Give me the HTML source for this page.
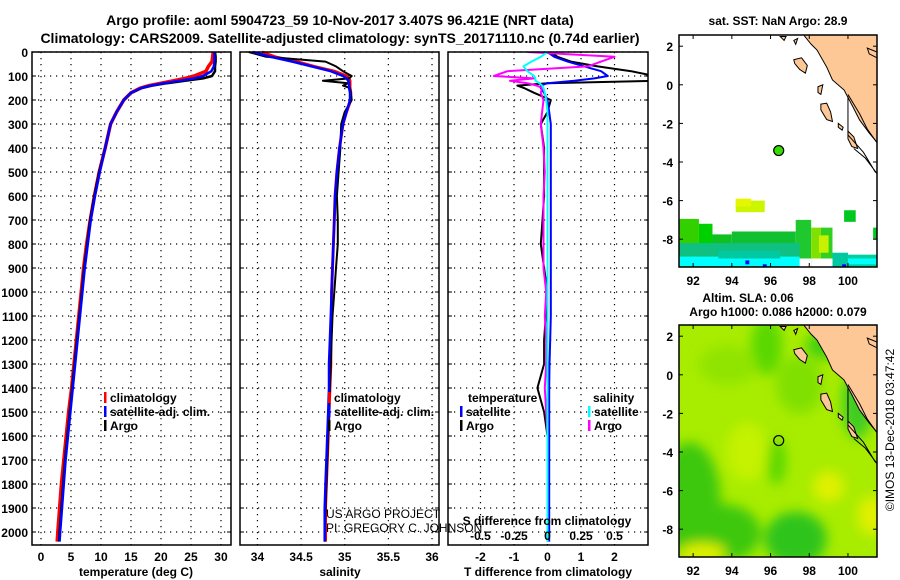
<!DOCTYPE html>
<html><head><meta charset="utf-8"><style>
body{margin:0;background:#fff}
svg{display:block;font-family:"Liberation Sans",sans-serif;font-weight:bold}
</style></head><body>
<svg id="c" width="900" height="580" viewBox="0 0 900 580" xmlns="http://www.w3.org/2000/svg">
<defs><filter id="bl" x="-50%" y="-50%" width="200%" height="200%"><feGaussianBlur stdDeviation="6"/></filter>
<clipPath id="m1"><rect x="679" y="35" width="198" height="232"/></clipPath>
<clipPath id="m2"><rect x="679" y="325" width="198" height="232"/></clipPath>
<clipPath id="p3"><rect x="448" y="52" width="200" height="493"/></clipPath></defs>
<text x="340" y="25" font-size="14" text-anchor="middle">Argo profile: aoml 5904723_59 10-Nov-2017 3.407S 96.421E (NRT data)</text>
<text x="340" y="43" font-size="14" text-anchor="middle">Climatology: CARS2009. Satellite-adjusted climatology: synTS_20171110.nc (0.74d earlier)</text>
</svg>
<script>
const depthTicks=[0,100,200,300,400,500,600,700,800,900,1000,1100,1200,1300,1400,1500,1600,1700,1800,1900,2000];
const tempTicks=[0,5,10,15,20,25,30];
const salTicks=[34,34.5,35,35.5,36];
const salTickLabels=['34','34.5','35','35.5','36'];
const tdTicks=[-2,-1,0,1,2];
const sdTicks=[-0.5,-0.25,0,0.25,0.5];
const sdTickLabels=['-0.5','-0.25','0','0.25','0.5'];
const depths=[0,20,40,60,80,100,110,120,130,140,150,170,200,250,300,400,500,600,700,800,900,1000,1100,1200,1300,1400,1500,1600,1700,1800,1900,2000,2040];
const tempArgo=[29.0,29.1,29.1,29.0,29.0,28.5,27,24,21,18.5,16.8,15,13.8,12.6,11.6,10.7,9.7,8.9,8.2,7.7,7.2,6.8,6.4,6.0,5.6,5.2,4.8,4.4,4.0,3.7,3.4,3.1,3.0];
const tempClim=[28.7,28.6,28.5,27.9,27.5,25.5,24,22,20,18,16.6,15,13.8,12.6,11.6,10.7,9.7,8.9,8.2,7.6,7.1,6.7,6.3,5.9,5.5,5.1,4.6,4.2,3.8,3.4,3.1,2.8,2.7];
const tempSat=[28.9,28.9,28.9,28.8,28.4,27,25.5,23,20.5,18.3,16.7,15,13.8,12.6,11.6,10.7,9.8,9.0,8.3,7.8,7.3,6.9,6.5,6.1,5.7,5.3,4.9,4.5,4.1,3.8,3.5,3.2,3.1];
const salArgo=[33.9,34.1,34.78,34.9,34.98,35.08,35.05,34.75,35.04,34.98,35.06,35.07,35.08,35.0,34.96,34.95,34.93,34.91,34.92,34.92,34.9,34.88,34.86,34.85,34.84,34.83,34.82,34.81,34.8,34.79,34.78,34.77,34.77];
const salClim=[34.05,34.2,34.45,34.65,34.88,35.02,35.05,35.06,35.06,35.06,35.06,35.07,35.07,35.02,34.98,34.94,34.91,34.89,34.88,34.87,34.86,34.85,34.85,34.84,34.84,34.83,34.82,34.81,34.8,34.79,34.78,34.78,34.78];
const salSat=[33.95,34.15,34.4,34.62,34.84,34.98,35.02,35.04,35.05,35.05,35.05,35.06,35.06,35.02,34.98,34.94,34.91,34.89,34.88,34.87,34.86,34.85,34.84,34.83,34.82,34.82,34.81,34.8,34.79,34.78,34.77,34.77,34.77];
const tdArgo=[0.1,0.3,0.7,1.5,2.5,3.2,3.2,3.2,0,-0.9,-0.7,-0.4,0.1,0.0,-0.2,-0.1,-0.1,-0.1,-0.15,-0.2,-0.1,0.0,-0.05,-0.1,-0.1,-0.3,-0.1,0,0,0,0,0,0];
const tdSat=[0.0,0.2,0.6,1.1,1.6,1.8,1.4,0.8,0.0,-0.2,-0.2,-0.1,0.0,0.05,0.1,0.1,0.1,0.1,0.1,0.1,0.1,0.1,0.1,0.08,0.06,0.05,0.05,0.05,0.05,0.05,0.05,0.05,0.05];
const sdArgo=[-0.15,0.5,0.4,0.3,-0.3,-0.4,-0.1,-0.28,-0.15,-0.08,-0.04,-0.05,-0.03,-0.04,-0.05,-0.03,-0.02,-0.03,-0.03,-0.03,-0.03,-0.01,-0.02,-0.01,-0.01,-0.02,-0.01,0,0,0,0,0,0];
const sdSat=[0.0,-0.05,-0.12,-0.18,-0.15,-0.1,-0.09,-0.09,-0.06,-0.04,-0.03,-0.02,-0.01,0.0,0.0,0.0,0.0,0.0,0.0,0.0,0.0,0.0,0.0,0.0,0.0,0.0,0.0,0.0,0.0,0.0,0.0,0.0,0.0];
const argoLon=96.421, argoLat=-3.407;
const lonTicks=[92,94,96,98,100];
const latTicks=[2,0,-2,-4,-6,-8];

const S=document.getElementById('c');const NS='http://www.w3.org/2000/svg';
function mk(t,a,p){const e=document.createElementNS(NS,t);for(const k in a)e.setAttribute(k,a[k]);(p||S).appendChild(e);return e;}
function tx(x,y,s,o){const e=mk('text',Object.assign({x:x,y:y,'font-size':12},o||{}));e.textContent=s;return e;}
const Y0=52,Y1=545;
const yD=d=>Y0+d*0.24;
const panels=[
 {n:'temperature',x0:32,x1:231,v0:-1.5,v1:31.67},
 {n:'salinity',x0:240,x1:439,v0:33.8,v1:36.08},
 {n:'difference',x0:448,x1:648,v0:-2.97,v1:3.0}];
panels.forEach(p=>{p.f=v=>p.x0+(v-p.v0)/(p.v1-p.v0)*(p.x1-p.x0);});
const xT=panels[0].f,xS=panels[1].f,xTD=panels[2].f,xSD=v=>xTD(v*4);
depthTicks.forEach(d=>{const e=tx(28,yD(d)+5,String(d),{'text-anchor':'end'});

});
function grid(p,ticks,fx){
 const g=mk('g',{});
 
 
 depthTicks.forEach(d=>{mk('line',{x1:p.x0,x2:p.x1,y1:yD(d),y2:yD(d),stroke:'#000','stroke-dasharray':'1.2 4.8','stroke-width':1.2},g);
  mk('line',{x1:p.x0,x2:p.x0+4,y1:yD(d),y2:yD(d),stroke:'#000'},g);mk('line',{x1:p.x1-4,x2:p.x1,y1:yD(d),y2:yD(d),stroke:'#000'},g);});
 ticks.forEach(v=>{const x=fx(v);mk('line',{x1:x,x2:x,y1:Y0,y2:Y1,stroke:'#000','stroke-dasharray':'1.2 4.8','stroke-width':1.2},g);});
}
function frame(p){const r=mk('rect',{x:p.x0,y:Y0,width:p.x1-p.x0,height:Y1-Y0,fill:'none',stroke:'#000','stroke-width':1.5});
 
 }
grid(panels[0],tempTicks,xT);grid(panels[1],salTicks,xS);grid(panels[2],tdTicks,xTD);
function line(vals,fx,col,name,w,clip){const pts=vals.map((v,i)=>fx(v).toFixed(1)+','+yD(depths[i]).toFixed(1)).join(' ');
 const a={points:pts,fill:'none',stroke:col,'stroke-width':w||2.5,'stroke-linejoin':'round'};if(clip)a['clip-path']='url(#p3)';
 const e=mk('polyline',a);
 
 }
line(tempClim,xT,'#f00','temperature-climatology-line',3.5);line(tempArgo,xT,'#000','temperature-argo-line',2.5);line(tempSat,xT,'#00f','temperature-satellite-line',2.5);
line(salClim,xS,'#f00','salinity-climatology-line',3);line(salArgo,xS,'#000','salinity-argo-line',2);line(salSat,xS,'#00f','salinity-satellite-line',2.5);
line(tdArgo,xTD,'#000','t-diff-argo-line',2,1);line(tdSat,xTD,'#00f','t-diff-satellite-line',2,1);line(sdArgo,xSD,'#f0f','s-diff-argo-line',2,1);line(sdSat,xSD,'#0ff','s-diff-satellite-line',2,1);
panels.forEach(frame);
tempTicks.forEach(v=>{const e=tx(xT(v),561,String(v),{'text-anchor':'middle'});

});
salTicks.forEach((v,i)=>{const e=tx(xS(v),561,salTickLabels[i],{'text-anchor':'middle'});

});
tdTicks.forEach(v=>{const e=tx(xTD(v),561,String(v),{'text-anchor':'middle'});

});
sdTicks.forEach((v,i)=>{const e=tx(xSD(v),540,sdTickLabels[i],{'text-anchor':'middle'});

});
[[136,'temperature (deg C)','temperature-axis-title'],[340,'salinity','salinity-axis-title'],[548,'T difference from climatology','t-diff-axis-title']].forEach(a=>{const e=tx(a[0],576,a[1],{'text-anchor':'middle'});

});
{const e=tx(547,525,'S difference from climatology',{'text-anchor':'middle'});

}
function leg(x,y,col,lab,name){mk('rect',{x:x,y:y-10,width:2.5,height:11,fill:col});const e=tx(x+6,y,lab);
 
 }
leg(104,402,'#f00','climatology','legend-temp-climatology');leg(104,416,'#00f','satellite-adj. clim.','legend-temp-satellite');leg(104,430,'#000','Argo','legend-temp-argo');
leg(328,402,'#f00','climatology','legend-sal-climatology');leg(328,416,'#00f','satellite-adj. clim.','legend-sal-satellite');leg(328,430,'#000','Argo','legend-sal-argo');
{const e=tx(468,402,'temperature');}
leg(460,416,'#00f','satellite','legend-tdiff-satellite');leg(460,430,'#000','Argo','legend-tdiff-argo');
{const e=tx(593,402,'salinity');}
leg(588,416,'#0ff','satellite','legend-sdiff-satellite');leg(588,430,'#f0f','Argo','legend-sdiff-argo');
{const e=tx(326,518,'US ARGO PROJECT',{'font-weight':'normal'});
 const f=tx(326,532,'PI: GREGORY C. JOHNSON',{'font-weight':'normal'});}
const LON0=91.27,LON1=101.5,LAT0=2.58,LAT1=-9.44;
function mapFn(top){return {x:lo=>679+(lo-LON0)/(LON1-LON0)*198,y:la=>top+(LAT0-la)/(LAT0-LAT1)*232};}
const M1=mapFn(35),M2=mapFn(325);
function cell(M,g,lo0,lo1,la0,la1,c){mk('rect',{x:M.x(lo0),y:M.y(la0),width:M.x(lo1)-M.x(lo0),height:M.y(la1)-M.y(la0),fill:c},g);}
const g1=mk('g',{'clip-path':'url(#m1)'});


[[94.2,95.7,-6.0,-6.6,'#ccf500'],[94.2,95.0,-5.9,-6.3,'#e6f500'],[91.3,92.3,-6.95,-9.5,'#33d000'],[92.3,93.0,-7.2,-9.5,'#00d000'],[93.0,94.0,-7.75,-9.5,'#10c020'],[94.0,97.3,-7.6,-9.5,'#10c030'],[97.3,98.1,-7.0,-9.5,'#20c830'],[98.1,98.6,-7.4,-9.0,'#80e000'],[98.6,99.2,-7.4,-9.0,'#30d020'],[99.2,100,-8.7,-9.5,'#00c8a0'],[99.8,100.4,-6.5,-7.1,'#00c820'],[101.3,101.6,-7.4,-8.0,'#00c820'],[100,101.6,-8.8,-9.5,'#00d0a0'],
 [91.3,97.5,-8.2,-8.9,'#10c080'],[91.3,97.5,-8.9,-9.4,'#00ffff'],[93.3,96.5,-8.6,-9.0,'#00c8a0'],[98.5,99.0,-7.8,-8.7,'#c8f000'],[100,101.6,-9.0,-9.3,'#00ffff'],[97.5,98.1,-9.0,-9.5,'#ffffff'],[98.3,99.2,-9.0,-9.3,'#ffffff'],[94.7,94.9,-9.1,-9.3,'#0000ff'],[95.6,95.8,-9.3,-9.5,'#0000ff'],[99.7,99.9,-9.3,-9.5,'#0000ff']].forEach(a=>cell(M1,g1,...a));
const g2=mk('g',{'clip-path':'url(#m2)'});


cell(M2,g2,91,102,3,-10,'#a8ec00');
const bl=mk('g',{filter:'url(#bl)'},g2);
[[91.8,-6.5,1.6,3,'#3cc810'],[93.5,-8.2,2,1.5,'#3cc810'],[97.3,-8.5,1.6,1.4,'#2ec41a'],[95.8,1.5,0.8,1.5,'#5ad800'],[97.5,-0.5,1.2,1.5,'#80e000'],[96.3,-4.5,0.5,1.2,'#5ad800'],[93.8,0.5,1.5,1,'#90e400'],[94.8,-4,1.1,1.5,'#c4f200'],[99,-5.8,0.8,0.8,'#e0f000'],[101.2,-7.3,0.7,1,'#e0f000'],[92.5,-9.2,1.2,0.5,'#e0f000'],[100.5,-1.5,0.8,1.8,'#40cc20'],[98.8,1.5,1,0.7,'#44d010']].forEach(a=>{mk('ellipse',{cx:M2.x(a[0]),cy:M2.y(a[1]),rx:a[2]*19.4,ry:a[3]*19.3,fill:a[4]},bl);});
const coast=[[97.7,2.8],[97.75,2.53],[98.1,2.1],[98.4,1.8],[98.9,0.92],[99.2,0.25],[99.8,-0.27],[100.26,-1.15],[100.6,-1.82],[101.1,-2.5],[101.6,-3.1],[101.6,2.8]];
const isl=[[[97.2,1.3],[97.6,1.4],[97.9,1.0],[97.8,0.6],[97.5,0.8],[97.25,1.1]],[[98.6,-1.0],[98.9,-0.95],[99.1,-1.4],[99.2,-1.9],[98.9,-1.8],[98.6,-1.3]],[[98.45,-0.1],[98.7,0.0],[98.6,-0.5],[98.45,-0.4]],[[99.5,-2.0],[99.75,-2.2],[99.7,-2.35],[99.5,-2.2]],[[100.0,-2.4],[100.3,-2.7],[100.5,-3.3],[100.2,-3.2],[100.0,-2.8]],[[101.0,1.9],[101.5,1.7],[101.5,1.4],[101.1,1.6]],[[96.5,2.5],[96.8,2.5],[96.7,2.3]],[[97.2,2.3],[97.4,2.4],[97.3,2.1]]];
[[M1,g1,'sst'],[M2,g2,'sla']].forEach(([M,g,n])=>{
 const lg=mk('g',{},g);
 
 
 [coast,...isl].forEach(poly=>mk('polygon',{points:poly.map(p=>M.x(p[0])+','+M.y(p[1])).join(' '),fill:'#fdc896',stroke:'#000','stroke-width':1},lg));
 mk('polyline',{points:[[100,-0.6],[100,-2.6],[100.8,-3.5],[101.4,-4.5],[101.5,-4.6],[100.9,-3.8],[100.3,-3.3]].map(p=>M.x(p[0])+','+M.y(p[1])).join(' '),fill:'none',stroke:'#000','stroke-width':1},lg);
 mk('polyline',{points:[[100.0,-0.5],[100.6,-1.5],[101.0,-2.3],[101.5,-3.0]].map(p=>M.x(p[0])+','+M.y(p[1])).join(' '),fill:'none',stroke:'#000','stroke-width':1},lg);
 const fr=mk('rect',{x:679,y:M.y(LAT0),width:198,height:232,fill:'none',stroke:'#000','stroke-width':1.5});
 
 
 const top=M.y(LAT0);
 lonTicks.forEach(v=>{mk('line',{x1:M.x(v),x2:M.x(v),y1:top,y2:top+4,stroke:'#000'});mk('line',{x1:M.x(v),x2:M.x(v),y1:top+232,y2:top+228,stroke:'#000'});
  const e=tx(M.x(v),top+250,String(v),{'text-anchor':'middle'});
  
  });
 latTicks.forEach(v=>{mk('line',{x1:679,x2:683,y1:M.y(v),y2:M.y(v),stroke:'#000'});mk('line',{x1:877,x2:873,y1:M.y(v),y2:M.y(v),stroke:'#000'});
  const e=tx(673,M.y(v)+5,String(v),{'text-anchor':'end'});
  
  });
});
{const e=mk('circle',{cx:M1.x(argoLon),cy:M1.y(argoLat),r:5,fill:'#33dd00',stroke:'#000','stroke-width':1.2});


const f=mk('circle',{cx:M2.x(argoLon),cy:M2.y(argoLat),r:5,fill:'none',stroke:'#000','stroke-width':1.2});

}
[[778,25,'sat. SST: NaN Argo: 28.9','sst-map-title'],[748,302,'Altim. SLA: 0.06','sla-map-title'],[778,316,'Argo h1000: 0.086 h2000: 0.079','sla-argo-heights']].forEach(a=>{const e=tx(a[0],a[1],a[2],{'text-anchor':'middle'});

});
{const e=tx(0,0,'©IMOS 13-Dec-2018 03:47:42',{'font-weight':'normal','text-anchor':'middle',transform:'translate(894,430) rotate(-90)'});

}
</script>
</body></html>
